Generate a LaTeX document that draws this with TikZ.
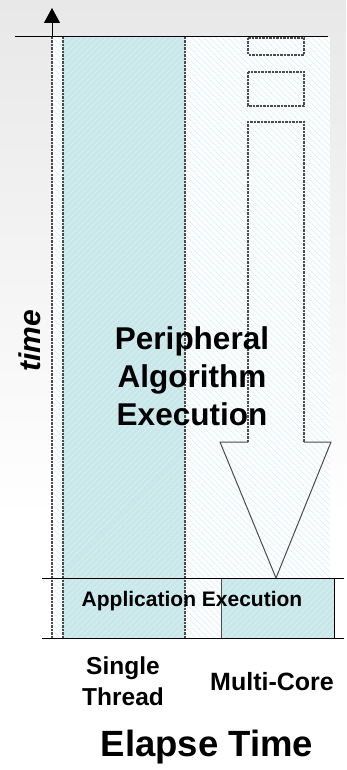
\documentclass[tikz,border=0pt]{standalone}
\usepackage{fontspec}
\setmainfont{Liberation Sans}
\usetikzlibrary{arrows.meta,patterns.meta}
\definecolor{appcyan}{RGB}{200,231,234}
\definecolor{hatchcyan}{RGB}{212,235,237}
\definecolor{dashgray}{RGB}{75,75,75}
\begin{document}
\begin{tikzpicture}[x=1pt,y=-1pt,line width=1pt,
  dashedge/.style={dashgray,dash pattern=on 2.5pt off 1pt,line width=1.3pt},
  cyanbox/.style={fill=appcyan,postaction={pattern={Lines[angle=45,distance=4pt,line width=0.5pt]},pattern color=white!55!appcyan}},
  palebox/.style={fill=white!93!appcyan,postaction={pattern={Lines[angle=-45,distance=4pt,line width=0.5pt]},pattern color=hatchcyan}},
  lbl/.style={font=\bfseries,align=center,inner sep=0pt}]
  \useasboundingbox (0,0) rectangle (346,770);
  \shade[top color=black!9,bottom color=white] (0,0) rectangle (346,520);

  \coordinate (T0) at (52,37);
  \coordinate (Tip) at (52,8);
  \coordinate (T1) at (52,638);
  \coordinate (L0) at (15,37);
  \coordinate (L1) at (328,37);
  \coordinate (A0) at (42,578);
  \coordinate (A1) at (344,578);
  \coordinate (B0) at (42,638);
  \coordinate (B1) at (344,638);

  % 背景区域
  \path[palebox] (52,37) rectangle (63,638);
  \path[cyanbox] (63,37) rectangle (185,638);
  \path[palebox] (185,37) rectangle (330,578);
  \path[palebox] (185,578) rectangle (221,638);
  \path[cyanbox] (221,578) rectangle (334,638);

  % 虚线分隔
  \draw[dashedge] (T0) -- (T1);
  \draw[dashedge] (63,37) -- (63,638);
  \draw[dashedge] (185,37) -- (185,638);
  \draw[dashgray,line width=0.8pt] (221,578) -- (221,638);
  \draw (334,578) -- (334,638);

  % 多核的小块与大箭头
  \draw[dashedge] (248,38) rectangle (304,55);
  \draw[dashedge] (248,72) rectangle (304,106);
  \draw[dashedge] (248,442) -- (248,122) -- (304,122) -- (304,442);
  \draw[dashgray] (248,442) -- (220,442) -- (276,578) -- (331,442) -- (304,442);

  % 时间轴与横线
  \draw[-{Triangle[width=16pt,length=15pt]}] (T0) -- (Tip);
  \draw (L0) -- (L1);
  \draw (A0) -- (A1);
  \draw (B0) -- (B1);

  % 文字
  \node[lbl,rotate=90,font=\bfseries\itshape\fontsize{30}{36}\selectfont] (time) at (30,341) {time};
  \node[lbl,font=\bfseries\fontsize{31.5}{38}\selectfont] (periph) at (192,376) {Peripheral\\Algorithm\\Execution};
  \node[lbl,font=\bfseries\fontsize{21}{25}\selectfont] (app) at (192,601) {Application Execution};
  \node[lbl,font=\bfseries\fontsize{24.5}{31}\selectfont] (single) at (123,681) {Single\\Thread};
  \node[lbl,font=\bfseries\fontsize{25}{30}\selectfont] (multi) at (272,682) {Multi-Core};
  \node[lbl,font=\bfseries\fontsize{36.5}{44}\selectfont] (elapse) at (207,747) {Elapse Time};
\end{tikzpicture}
\end{document}
